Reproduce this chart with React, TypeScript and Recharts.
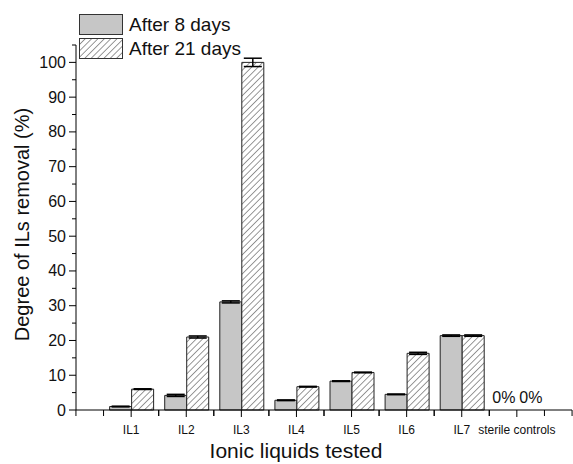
import React from "react";
import {
  BarChart,
  Bar,
  XAxis,
  YAxis,
  ErrorBar,
  Label,
} from "recharts";

const categories = ["IL1", "IL2", "IL3", "IL4", "IL5", "IL6", "IL7", "sterile controls"];
const after8 = [1.0, 4.2, 31.1, 2.8, 8.3, 4.5, 21.4, 0];
const after8Err = [0.1, 0.3, 0.3, 0.1, 0.1, 0.1, 0.2, 0];
const after21 = [6.0, 21.0, 100.0, 6.7, 10.8, 16.3, 21.4, 0];
const after21Err = [0.1, 0.3, 1.2, 0.1, 0.1, 0.3, 0.2, 0];
const yTicks = [0, 5, 10, 15, 20, 25, 30, 35, 40, 45, 50, 55, 60, 65, 70, 75, 80, 85, 90, 95, 100, 105];

const data = categories.map((name, i) => ({
  name,
  after8: after8[i],
  e8: after8Err[i],
  after21: after21[i],
  e21: after21Err[i],
}));

const W = 573;
const H = 464;
const LEFT = 76;
const PLOT_W = W - LEFT;
const PAD = PLOT_W / 18;
const BAND = PLOT_W / 9;
const BAR = 22;
const FONT = "'Liberation Sans', Arial, sans-serif";
const GREY = "#c6c6c6";

function YTick(props: any) {
  const { x, y, payload } = props;
  const major = payload.value % 10 === 0 && payload.value <= 100;
  return (
    <g>
      <line x1={x - (major ? 7 : 4)} y1={y} x2={x} y2={y} stroke="#000" strokeWidth={1} />
      {major && (
        <text x={x - 10} y={y} textAnchor="end" dominantBaseline="central" fontSize={16} fontFamily={FONT} fill="#111">
          {payload.value}
        </text>
      )}
    </g>
  );
}

function XTick(props: any) {
  const { x, y, payload, index } = props;
  const extra: number[] = [-PAD, PAD];
  if (index === 0) extra.push(-BAND);
  if (index === categories.length - 1) extra.push(BAND);
  // bars with a zero value get a "0%" note above the baseline
  const zeros = [
    { v: after8[index], dx: -BAR / 2 - 2 },
    { v: after21[index], dx: BAR / 2 + 3 },
  ].filter((z) => z.v === 0);
  return (
    <g>
      <line x1={x} y1={y} x2={x} y2={y + 7} stroke="#000" strokeWidth={1} />
      {extra.map((d) => (
        <line key={d} x1={x + d} y1={y} x2={x + d} y2={y + 6} stroke="#000" strokeWidth={1} />
      ))}
      <text x={x} y={y + 20} textAnchor="middle" dominantBaseline="central" fontSize={12} fontFamily={FONT} fill="#111">
        {payload.value}
      </text>
      {zeros.map((z) => (
        <text key={z.dx} x={x + z.dx} y={y - 7} textAnchor="middle" fontSize={16} fontFamily={FONT} fill="#111">
          0%
        </text>
      ))}
    </g>
  );
}

function HatchSwatch() {
  return (
    <svg width={44} height={21} style={{ display: "block" }}>
      <defs>
        <pattern id="hatchLegend" width={4.5} height={4.5} patternUnits="userSpaceOnUse" patternTransform="rotate(45)">
          <rect width={4.5} height={4.5} fill="#fff" />
          <line x1={0} y1={0} x2={0} y2={4.5} stroke="#333" strokeWidth={1} />
        </pattern>
      </defs>
      <rect x={0.5} y={0.5} width={43} height={20} fill="url(#hatchLegend)" stroke="#333" />
    </svg>
  );
}

export default function App() {
  return (
    <div style={{ position: "absolute", left: 0, top: 0, width: W, height: H, background: "#fff" }}>
      <BarChart
        width={W}
        height={H}
        data={data}
        margin={{ top: 45, right: 1, bottom: 0, left: 0 }}
        barSize={BAR}
        barGap={0}
      >
        <defs>
          <pattern id="hatch" width={4.5} height={4.5} patternUnits="userSpaceOnUse" patternTransform="rotate(45)">
            <rect width={4.5} height={4.5} fill="#fff" />
            <line x1={0} y1={0} x2={0} y2={4.5} stroke="#333" strokeWidth={1} />
          </pattern>
        </defs>
        <XAxis
          dataKey="name"
          height={54}
          padding={{ left: PAD, right: PAD }}
          tickSize={0}
          tickMargin={0}
          tickLine={false}
          axisLine={{ stroke: "#000" }}
          tick={<XTick />}
          interval={0}
        >
          <Label
            value="Ionic liquids tested"
            position="insideBottom"
            offset={6}
            dx={-28}
            style={{ fontSize: 21, fontFamily: FONT, fill: "#111" }}
          />
        </XAxis>
        <YAxis
          width={LEFT}
          domain={[0, 105]}
          ticks={yTicks}
          interval={0}
          tickSize={0}
          tickMargin={0}
          tickLine={false}
          axisLine={{ stroke: "#000" }}
          tick={<YTick />}
        >
          <Label
            content={(p: any) => {
              const vb = p.viewBox;
              const cx = vb.x + 22;
              const cy = vb.y + vb.height / 2 - 3;
              return (
                <text
                  x={cx}
                  y={cy}
                  transform={`rotate(-90 ${cx} ${cy})`}
                  textAnchor="middle"
                  dominantBaseline="central"
                  fontSize={20}
                  fontFamily={FONT}
                  fill="#111"
                >
                  Degree of ILs removal (%)
                </text>
              );
            }}
          />
        </YAxis>
        <Bar dataKey="after8" fill={GREY} stroke="#222" strokeWidth={1} isAnimationActive={false}>
          <ErrorBar dataKey="e8" width={9} stroke="#000" strokeWidth={1.5} />
        </Bar>
        <Bar dataKey="after21" fill="url(#hatch)" stroke="#222" strokeWidth={1} isAnimationActive={false}>
          <ErrorBar dataKey="e21" width={9} stroke="#000" strokeWidth={1.5} />
        </Bar>
      </BarChart>
      <div
        style={{
          position: "absolute",
          left: 79,
          top: 14,
          fontFamily: FONT,
          fontSize: 19,
          color: "#111",
          lineHeight: "21px",
        }}
      >
        <div style={{ display: "flex", alignItems: "center", gap: 6, marginBottom: 3 }}>
          <div style={{ width: 42, height: 19, background: GREY, border: "1px solid #333" }} />
          <span>After 8 days</span>
        </div>
        <div style={{ display: "flex", alignItems: "center", gap: 6 }}>
          <HatchSwatch />
          <span>After 21 days</span>
        </div>
      </div>
    </div>
  );
}
